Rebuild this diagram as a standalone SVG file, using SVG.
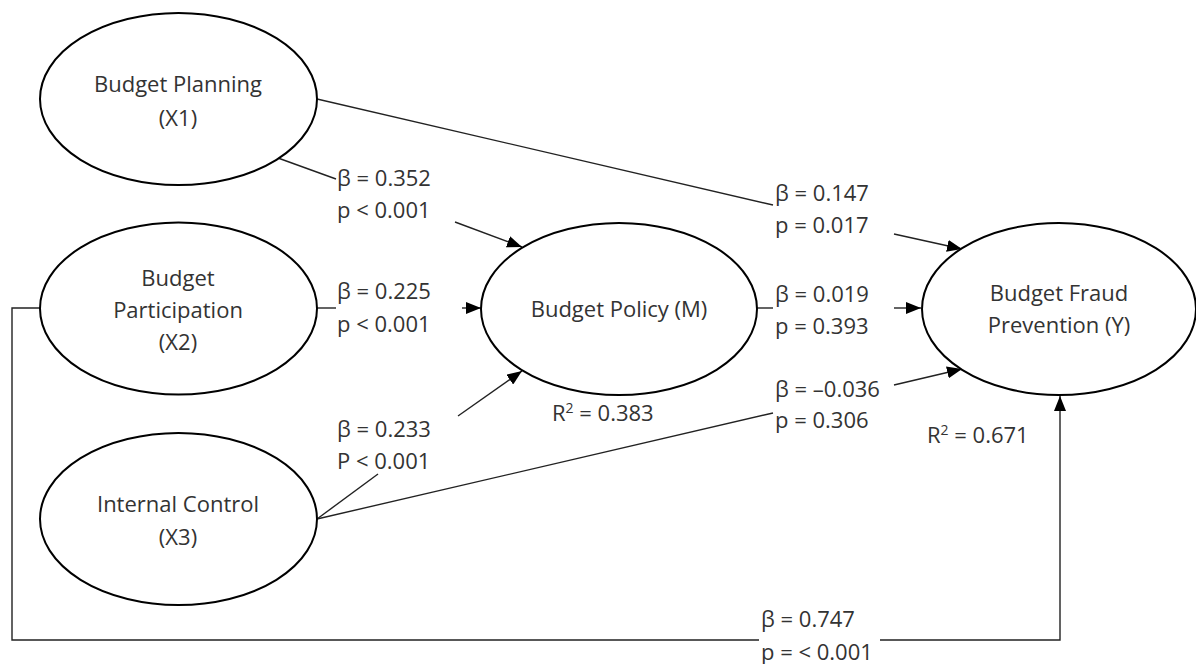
<svg xmlns="http://www.w3.org/2000/svg" width="1196" height="664" viewBox="0 0 1196 664">
<style>
.node ellipse{fill:#fff;stroke:#000;stroke-width:2}
text{font-family:"Open Sans","Noto Sans",sans-serif;font-size:22px;fill:#333}
.c{text-anchor:middle}
.edge{fill:none;stroke:#222;stroke-width:1.4}
</style>
<defs>
<marker id="ah" markerUnits="userSpaceOnUse" markerWidth="16" markerHeight="12" refX="15" refY="6" orient="auto">
<path d="M0,0 L15,6 L0,12 Z" fill="#000"/>
</marker>
</defs>
<rect width="1196" height="664" fill="#fff"/>
<g id="connectors">
<path class="edge" d="M317,99 L773,205"/>
<path class="edge" d="M894,234 L962,249" marker-end="url(#ah)"/>
<path class="edge" d="M278,158 L336,179"/>
<path class="edge" d="M455,222 L522,247" marker-end="url(#ah)"/>
<path class="edge" d="M317,308 L336,308"/>
<path class="edge" d="M462,308 L481,308" marker-end="url(#ah)"/>
<path class="edge" d="M317,519 L378,474"/>
<path class="edge" d="M458,416 L522,371" marker-end="url(#ah)"/>
<path class="edge" d="M317,519 L773,413"/>
<path class="edge" d="M894,385 L962,369" marker-end="url(#ah)"/>
<path class="edge" d="M757,308 L773,308"/>
<path class="edge" d="M894,308 L921,308" marker-end="url(#ah)"/>
<path class="edge" d="M40,308 L12,308 L12,640 L759,640"/>
<path class="edge" d="M880,640 L1060,640 L1060,396" marker-end="url(#ah)"/>
<text x="337" y="186">β = 0.352</text>
<text x="337" y="218">p &lt; 0.001</text>
<text x="337" y="299">β = 0.225</text>
<text x="337" y="332">p &lt; 0.001</text>
<text x="337" y="437">β = 0.233</text>
<text x="337" y="469">P &lt; 0.001</text>
<text x="775" y="201">β = 0.147</text>
<text x="775" y="233">p = 0.017</text>
<text x="775" y="302">β = 0.019</text>
<text x="775" y="334">p = 0.393</text>
<text x="775" y="397">β = –0.036</text>
<text x="775" y="428">p = 0.306</text>
<text x="761" y="627">β = 0.747</text>
<text x="761" y="660">p = &lt; 0.001</text>
</g>
<g id="x1" class="node"><ellipse cx="178.5" cy="99" rx="138.5" ry="86"/><text class="c" x="178" y="92">Budget Planning</text><text class="c" x="178" y="126">(X1)</text></g>
<g id="x2" class="node"><ellipse cx="178.5" cy="308.5" rx="138.5" ry="86"/><text class="c" x="178" y="286">Budget</text><text class="c" x="178" y="318">Participation</text><text class="c" x="178" y="350">(X2)</text></g>
<g id="x3" class="node"><ellipse cx="178.5" cy="519" rx="138.5" ry="86"/><text class="c" x="178" y="512">Internal Control</text><text class="c" x="178" y="545">(X3)</text></g>
<g id="m" class="node"><ellipse cx="619" cy="309" rx="138" ry="86"/><text class="c" x="619" y="317">Budget Policy (M)</text><text x="552" y="421">R<tspan font-size="14" dy="-8">2</tspan><tspan dy="8"> = 0.383</tspan></text></g>
<g id="y" class="node"><ellipse cx="1059" cy="309" rx="137" ry="86"/><text class="c" x="1059" y="301">Budget Fraud</text><text class="c" x="1059" y="333">Prevention (Y)</text><text x="927" y="443">R<tspan font-size="14" dy="-8">2</tspan><tspan dy="8"> = 0.671</tspan></text></g>
</svg>
